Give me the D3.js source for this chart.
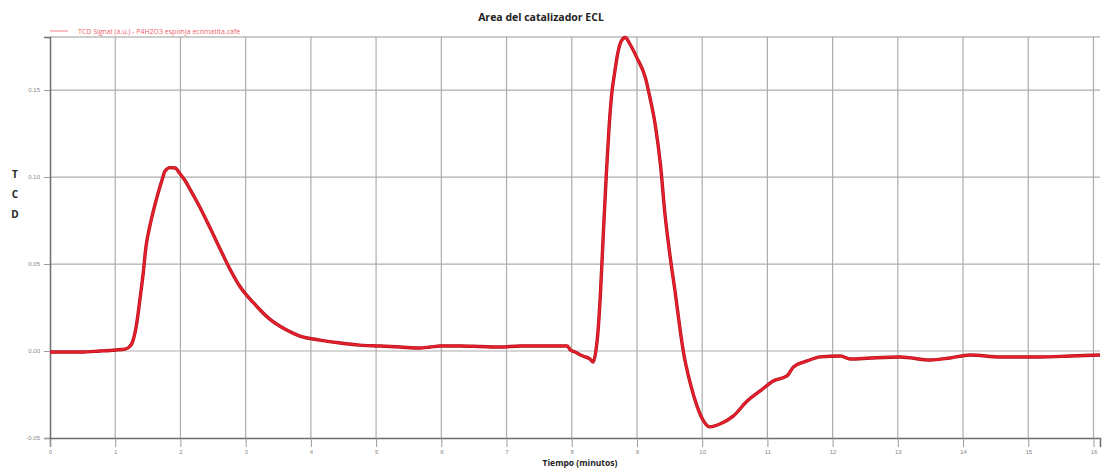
<!DOCTYPE html>
<html>
<head>
<meta charset="utf-8">
<script src="https://cdn.jsdelivr.net/npm/d3@7"></script>
<style>
  html, body { margin: 0; padding: 0; background: #fff; }
  svg { display: block; font-family: "Open Sans", "DejaVu Sans", sans-serif; }
</style>
</head>
<body>
<svg id="chart" width="1103" height="471"></svg>
<script>
// TCD signal over time (minutes)
const tiempo = [
  0, 0.46, 0.77, 1.01, 1.15, 1.23, 1.27, 1.33, 1.38, 1.43, 1.47, 1.53, 1.58, 1.66, 1.72, 1.76,
  1.84, 1.92, 1.99, 2.07, 2.15, 2.30, 2.45, 2.61, 2.76, 2.91, 3.14, 3.37, 3.60, 3.83, 4.14,
  4.45, 4.75, 5.06, 5.37, 5.67, 5.83, 5.98, 6.29, 6.60, 6.90, 7.21, 7.52, 7.93, 7.98, 8.05,
  8.17, 8.28, 8.33, 8.37, 8.40, 8.44, 8.48, 8.53, 8.57, 8.61, 8.66, 8.71, 8.76, 8.82, 8.90,
  9.00, 9.13, 9.20, 9.28, 9.36, 9.43, 9.51, 9.59, 9.66, 9.71, 9.82, 9.92, 10.02,
  10.12, 10.28, 10.48, 10.69, 10.89, 11.09, 11.30, 11.40, 11.61, 11.81, 12.12, 12.27, 12.58,
  13.04, 13.50, 13.80, 14.11, 14.57, 15.18, 15.64, 16.10
];
const tcd = [
  -0.0006, -0.0006, 0.0000, 0.0006, 0.0011, 0.0029, 0.0057, 0.0160, 0.0300, 0.0450, 0.0595,
  0.0716, 0.0797, 0.0911, 0.0986, 0.1032, 0.1054, 0.1052, 0.1020, 0.0980, 0.0928, 0.0825,
  0.0711, 0.0585, 0.0470, 0.0372, 0.0269, 0.0183, 0.0126, 0.0086, 0.0063, 0.0046, 0.0034,
  0.0029, 0.0023, 0.0017, 0.0023, 0.0029, 0.0029, 0.0026, 0.0023, 0.0029, 0.0029, 0.0029,
  0.0006, -0.0006, -0.0029, -0.0046, -0.0063, 0.0000, 0.0100, 0.0330, 0.0640, 0.1014,
  0.1272, 0.1467, 0.1605, 0.1719, 0.1782, 0.1802, 0.1759,
  0.1685, 0.1570, 0.1455, 0.1301, 0.1072, 0.0785, 0.0539, 0.0327, 0.0126, 0.0000, -0.0189, -0.0315,
  -0.0401, -0.0436, -0.0418, -0.0373, -0.0287, -0.0229, -0.0172, -0.0143, -0.0092,
  -0.0057, -0.0034, -0.0029, -0.0046, -0.0040, -0.0034, -0.0052, -0.0040, -0.0023,
  -0.0034, -0.0034, -0.0029, -0.0023
];
const xTicks = d3.range(0, 17, 1);
const yTicks = [-0.05, 0, 0.05, 0.10, 0.15];
const yTickLabels = ["-0.05", "0.00", "0.05", "0.10", "0.15"];

const titulo = "Area del catalizador ECL";
const leyenda = "TCD Signal (a.u.) - P4H2O3 esponja ecomatita.cafe";
const ejeX = "Tiempo (minutos)";
const ejeY = ["T", "C", "D"];

const svg = d3.select("#chart");
const m = { left: 50, right: 3, top: 37, bottom: 33 };
const W = 1103, H = 471;

const x = d3.scaleLinear().domain([0, 16.1]).range([m.left, W - m.right]);
const y = d3.scaleLinear().domain([-0.05, 0.1805]).range([H - m.bottom, m.top]);

const lineColor = "#e3202c";
const gridColor = "#adadad";
const axisColor = "#6e6e6e";

// grid
svg.append("g").selectAll("line").data(xTicks.filter(d => d > 0)).join("line")
  .attr("x1", d => x(d)).attr("x2", d => x(d))
  .attr("y1", m.top).attr("y2", H - m.bottom)
  .attr("stroke", gridColor).attr("stroke-width", 1.2);
svg.append("g").selectAll("line").data(yTicks.filter(d => d > -0.05)).join("line")
  .attr("x1", m.left).attr("x2", W - m.right)
  .attr("y1", d => y(d)).attr("y2", d => y(d))
  .attr("stroke", gridColor).attr("stroke-width", 1.2);
// top border
svg.append("line").attr("x1", m.left).attr("x2", W - m.right)
  .attr("y1", m.top).attr("y2", m.top)
  .attr("stroke", "#999").attr("stroke-width", 1.2);

// x axis with minor ticks
const xAxis = svg.append("g").attr("transform", `translate(0,${H - m.bottom})`);
xAxis.call(d3.axisBottom(x).tickValues(d3.range(0, 16.01, 0.2)).tickSize(3).tickFormat(""))
  .call(g => g.selectAll("line").attr("stroke", "#999"));
xAxis.call(d3.axisBottom(x).tickValues(xTicks).tickSize(9).tickPadding(3).tickFormat(d3.format("d")))
  .call(g => g.select(".domain").attr("stroke", axisColor).attr("stroke-width", 1.5))
  .call(g => g.selectAll(".tick line").attr("stroke", "#999"))
  .call(g => g.selectAll("text").attr("font-size", 6).attr("fill", "#888"));

// y axis with minor ticks
const yAxis = svg.append("g").attr("transform", `translate(${m.left},0)`);
yAxis.call(d3.axisLeft(y).tickValues(d3.range(-0.05, 0.1801, 0.01)).tickSize(3).tickFormat(""))
  .call(g => g.selectAll("line").attr("stroke", "#999"));
yAxis.call(d3.axisLeft(y).tickValues(yTicks).tickSize(6).tickPadding(4)
    .tickFormat((d, i) => yTickLabels[i]))
  .call(g => g.select(".domain").attr("stroke", axisColor).attr("stroke-width", 1.5))
  .call(g => g.selectAll(".tick line").attr("stroke", "#999"))
  .call(g => g.selectAll("text").attr("font-size", 6).attr("fill", "#888"));

// signal
const line = d3.line().x((d, i) => x(tiempo[i])).y(d => y(d)).curve(d3.curveMonotoneX);
svg.append("path").datum(tcd)
  .attr("fill", "none").attr("stroke", "#b3111c").attr("stroke-width", 3.4)
  .attr("stroke-linejoin", "round").attr("d", line);
svg.append("path").datum(tcd)
  .attr("fill", "none").attr("stroke", lineColor).attr("stroke-width", 2.2)
  .attr("stroke-linejoin", "round").attr("d", line);

// title
svg.append("text").attr("x", 541).attr("y", 21).attr("text-anchor", "middle")
  .attr("font-size", 10.5).attr("font-weight", "bold").attr("fill", "#222").text(titulo);

// legend
svg.append("line").attr("x1", 50).attr("x2", 68).attr("y1", 31).attr("y2", 31)
  .attr("stroke", "#f08088").attr("stroke-width", 1);
svg.append("text").attr("x", 78).attr("y", 33.5).attr("font-size", 7)
  .attr("fill", "#f0606a").text(leyenda);

// axis titles
svg.append("g").selectAll("text").data(ejeY).join("text")
  .attr("x", 15).attr("y", (d, i) => 178 + i * 20).attr("text-anchor", "middle")
  .attr("font-size", 10).attr("font-weight", "bold").attr("fill", "#222").text(d => d);
svg.append("text").attr("x", 580).attr("y", 466).attr("text-anchor", "middle")
  .attr("font-size", 8.5).attr("font-weight", "bold").attr("fill", "#222").text(ejeX);
</script>
</body>
</html>
